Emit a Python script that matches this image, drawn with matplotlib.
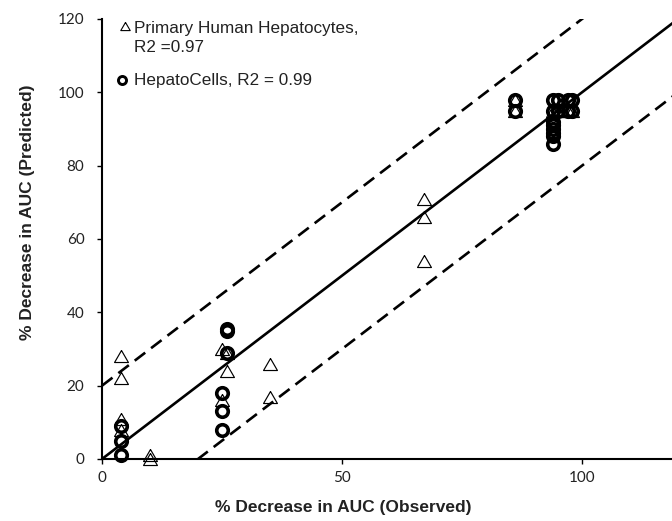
import matplotlib
matplotlib.use('Agg')
import matplotlib.pyplot as plt
import numpy as np

# Primary human hepatocytes (triangles): observed vs predicted % decrease in AUC
phh_obs = [4, 4, 4, 4, 10, 10, 25, 26, 26, 25, 35, 35, 67, 67, 67, 86, 86, 94, 94, 95, 97, 98]
phh_pred = [28, 22, 11, 8, 1, 0, 30, 29, 24, 16, 26, 17, 71, 66, 54, 95, 98, 95, 93, 95, 95, 95]

# HepatoCells (circles)
hc_obs = [4, 4, 4, 25, 25, 25, 26, 26, 26, 86, 86,
          94, 94, 94, 94, 94, 94, 94, 94, 95, 95, 97, 97, 98, 98]
hc_pred = [9, 5, 1, 18, 13, 8, 35, 35.5, 29, 98, 95,
           98, 95, 92, 91, 90, 89, 88, 86, 98, 95, 98, 95, 98, 95]

# unity line and +/-20 band
line_x = np.array([0, 130])
band = 20

x_ticks = [0, 50, 100]
y_ticks = [0, 20, 40, 60, 80, 100, 120]

legend_phh = ['Primary Human Hepatocytes,', 'R2 =0.97']
legend_hc = 'HepatoCells, R2 = 0.99'

# near-equilateral triangle marker (Excel style)
tri = [(0, 0.75), (-0.866, -0.75), (0.866, -0.75), (0, 0.75)]

fig = plt.figure(figsize=(6.72, 5.21), dpi=100)
ax = fig.add_axes([102 / 672, 62 / 521, 576 / 672, 440 / 521])

ax.plot(line_x, line_x, color='black', lw=1.9, solid_capstyle='butt')
ax.plot(line_x, line_x + band, color='black', lw=1.9, dashes=(5, 2.8))
ax.plot(line_x, line_x - band, color='black', lw=1.9, dashes=(5, 2.8))

ax.plot(phh_obs, phh_pred, linestyle='none', marker=tri, ms=10,
        mfc='none', mec='black', mew=0.85, clip_on=False)
ax.plot(hc_obs, hc_pred, linestyle='none', marker='o', ms=8.3,
        mfc='none', mec='black', mew=2.6, clip_on=False)

ax.set_xlim(0, 120)
ax.set_ylim(0, 120)
ax.set_xticks(x_ticks)
ax.set_yticks(y_ticks)

for s in ['top', 'right']:
    ax.spines[s].set_visible(False)
for s in ['left', 'bottom']:
    ax.spines[s].set_linewidth(1.5)

ax.tick_params(axis='both', direction='out', length=3.6, width=1,
               labelsize=11, labelcolor='#222222')
ax.tick_params(axis='y', pad=9)
ax.tick_params(axis='x', pad=5)
for lab in ax.get_xticklabels() + ax.get_yticklabels():
    lab.set_family('Lato')

ax.set_xlabel('% Decrease in AUC (Observed)', fontsize=12.5, fontweight='bold',
              family='Liberation Sans', color='#222222')
ax.set_ylabel('% Decrease in AUC (Predicted)', fontsize=12.5, fontweight='bold',
              family='Liberation Sans', color='#222222')
ax.xaxis.set_label_coords(0.418, -0.111)
ax.xaxis.label.set_va('center')
ax.yaxis.set_label_coords(-0.130, 0.561)
ax.yaxis.label.set_va('center')

# legend (Excel-like, keys beside text)
ax.plot([0.040], [0.984], transform=ax.transAxes, marker=tri, ms=6.8,
        mfc='none', mec='black', mew=0.8, clip_on=False)
ax.plot([0.034], [0.861], transform=ax.transAxes, marker='o', ms=5.8,
        mfc='none', mec='black', mew=2.1, clip_on=False)
ax.text(0.0556, 0.9795, legend_phh[0], transform=ax.transAxes, fontsize=12.3,
        family='Liberation Sans', va='center', ha='left', color='#222222')
ax.text(0.0556, 0.936, legend_phh[1], transform=ax.transAxes, fontsize=12.3,
        family='Liberation Sans', va='center', ha='left', color='#222222')
ax.text(0.0556, 0.861, legend_hc, transform=ax.transAxes, fontsize=12.3,
        family='Liberation Sans', va='center', ha='left', color='#222222')

fig.savefig('out.png', dpi=100)
